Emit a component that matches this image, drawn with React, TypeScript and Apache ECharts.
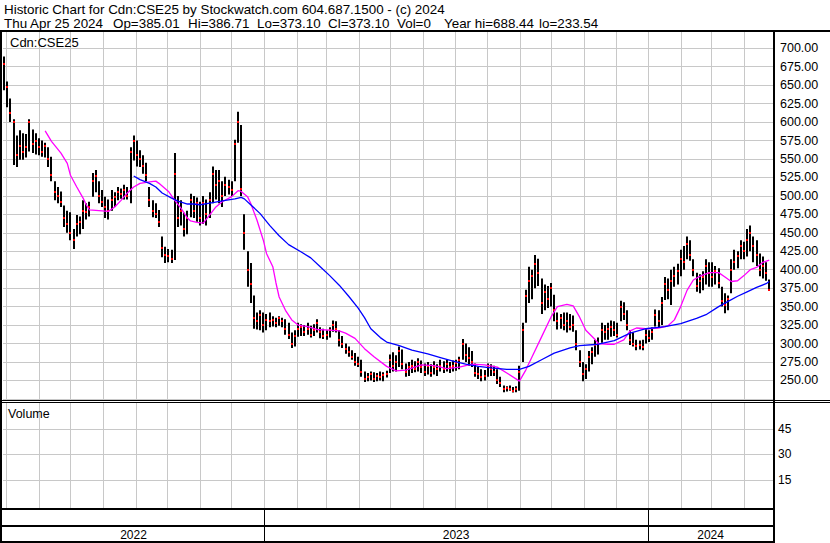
import React, { useEffect, useRef } from "react";
import * as echarts from "echarts";

// ---------- header texts ----------
const TITLE = "Historic Chart for Cdn:CSE25 by Stockwatch.com 604.687.1500 - (c) 2024";
const INFO = ["Thu Apr 25 2024", "Op=385.01", "Hi=386.71", "Lo=373.10", "Cl=373.10", "Vol=0", "Year hi=688.44", "lo=233.54"];
const SYMBOL = "Cdn:CSE25";
const VOLUME_TITLE = "Volume";

// ---------- time range ----------
const AXIS_START = "2022-04-28T00:00:00Z";
const AXIS_END = "2024-04-28T14:00:00Z";
const FIRST_DAY = "2022-04-29T00:00:00Z";
const LAST_DAY = "2024-04-25T00:00:00Z";

const MONTHS = [
  "2022-05-01", "2022-06-01", "2022-07-01", "2022-08-01", "2022-09-01", "2022-10-01", "2022-11-01", "2022-12-01",
  "2023-01-01", "2023-02-01", "2023-03-01", "2023-04-01", "2023-05-01", "2023-06-01", "2023-07-01", "2023-08-01",
  "2023-09-01", "2023-10-01", "2023-11-01", "2023-12-01", "2024-01-01", "2024-02-01", "2024-03-01", "2024-04-01",
];
const YEAR_STARTS = ["2023-01-01", "2024-01-01"];
const YEARS = ["2022", "2023", "2024"];

// ---------- axis ticks ----------
const PRICE_MIN = 225;
const PRICE_MAX = 725;
const PRICE_STEP = 25;
const VOLUME_MIN = 0;
const VOLUME_MAX = 60;
const VOLUME_TICKS = [15, 30, 45];
const VOLUME: number[] = []; // Vol = 0 throughout

// ---------- price bars: [high, low, close] (evenly spaced from FIRST_DAY to LAST_DAY) ----------
const BARS: number[][] = [
  [689, 643, 679], [655, 620, 648], [632, 600, 612], [604, 542, 600], [582, 539, 556], [589, 549, 568], [585, 549, 560], [584, 552, 566],
  [604, 560, 600], [590, 558, 570], [585, 556, 575], [578, 555, 566], [575, 553, 560], [572, 552, 568], [566, 539, 550], [553, 520, 528],
  [520, 494, 505], [512, 490, 500], [506, 485, 492], [487, 458, 470], [480, 450, 462], [478, 440, 450], [455, 428, 440], [474, 445, 462],
  [472, 448, 465], [494, 455, 480], [490, 468, 478], [492, 472, 485], [531, 499, 520], [535, 505, 527], [520, 490, 500], [508, 485, 492],
  [499, 470, 485], [495, 468, 480], [508, 480, 495], [505, 485, 498], [512, 494, 505], [510, 496, 502], [515, 495, 508], [512, 495, 500],
  [566, 490, 560], [582, 548, 575], [575, 540, 555], [562, 539, 550], [555, 530, 540], [545, 520, 528], [512, 485, 495], [494, 471, 480],
  [490, 470, 475], [481, 458, 465], [445, 417, 430], [431, 409, 420], [428, 410, 418], [427, 409, 415], [558, 413, 530], [500, 458, 470],
  [494, 460, 480], [477, 445, 455], [480, 448, 470], [503, 471, 495], [500, 470, 480], [498, 465, 490], [492, 460, 470], [500, 462, 490],
  [495, 460, 475], [505, 470, 495], [540, 490, 530], [535, 495, 515], [535, 490, 520], [520, 485, 500], [526, 500, 515], [522, 502, 512],
  [520, 500, 508], [576, 520, 570], [614, 572, 600], [596, 500, 510], [475, 427, 450], [425, 377, 400], [409, 355, 380], [365, 320, 335],
  [342, 319, 330], [345, 318, 338], [342, 315, 325], [340, 318, 332], [342, 322, 330], [337, 323, 332], [335, 322, 328], [337, 324, 335],
  [335, 322, 330], [333, 312, 320], [328, 306, 312], [315, 294, 300], [318, 296, 310], [328, 309, 320], [326, 310, 322], [325, 310, 315],
  [328, 312, 320], [324, 308, 312], [326, 310, 318], [333, 315, 328], [322, 307, 315], [320, 306, 310], [318, 305, 312], [322, 308, 318],
  [331, 316, 325], [330, 315, 320], [318, 296, 305], [310, 294, 300], [300, 286, 292], [296, 282, 288], [291, 278, 282], [287, 270, 275],
  [282, 268, 272], [278, 255, 262], [262, 248, 252], [260, 249, 255], [262, 250, 258], [261, 248, 252], [260, 249, 256], [262, 250, 254],
  [261, 249, 257], [263, 254, 258], [285, 260, 278], [288, 262, 270], [284, 262, 275], [296, 268, 290], [292, 265, 272], [273, 255, 262],
  [275, 256, 268], [278, 260, 270], [276, 261, 265], [280, 262, 275], [277, 260, 268], [273, 256, 262], [275, 258, 270], [272, 255, 260],
  [276, 258, 268], [272, 256, 265], [278, 262, 270], [276, 260, 265], [278, 262, 272], [275, 260, 268], [277, 262, 270], [278, 263, 273],
  [282, 265, 278], [306, 278, 300], [300, 275, 285], [295, 270, 280], [290, 268, 275], [273, 255, 260], [268, 252, 258], [265, 249, 254],
  [264, 250, 256], [273, 255, 268], [272, 256, 265], [270, 256, 262], [265, 245, 250], [255, 241, 246], [243, 234, 238], [242, 235, 240],
  [243, 236, 239], [241, 233.54, 236], [242, 234, 238], [270, 236, 262], [328, 275, 318], [373, 328, 365], [404, 355, 385], [400, 360, 392],
  [420, 375, 408], [415, 378, 395], [388, 340, 355], [380, 345, 370], [378, 348, 360], [382, 350, 375], [366, 330, 345], [342, 319, 330],
  [340, 320, 335], [342, 318, 325], [342, 315, 330], [340, 318, 322], [338, 316, 325], [318, 291, 300], [291, 268, 275], [275, 249, 258],
  [272, 252, 265], [290, 262, 282], [295, 272, 288], [305, 282, 298], [308, 285, 300], [328, 301, 318], [325, 305, 315], [328, 305, 320],
  [331, 309, 322], [330, 310, 318], [328, 308, 312], [358, 330, 350], [356, 332, 340], [345, 318, 325], [318, 298, 305], [315, 296, 300],
  [305, 291, 296], [304, 292, 298], [305, 291, 295], [320, 300, 312], [318, 302, 308], [322, 305, 315], [346, 323, 338], [345, 322, 330],
  [363, 325, 355], [390, 359, 380], [388, 360, 372], [400, 352, 385], [404, 377, 392], [408, 380, 398], [427, 391, 415], [432, 400, 410],
  [445, 414, 435], [440, 412, 420], [414, 391, 400], [396, 370, 378], [394, 368, 385], [398, 372, 390], [414, 380, 405], [410, 377, 395],
  [410, 377, 390], [405, 380, 398], [402, 375, 382], [377, 350, 358], [368, 341, 352], [365, 345, 360], [414, 368, 400], [427, 400, 410],
  [425, 402, 418], [440, 414, 432], [438, 414, 425], [455, 418, 440], [460, 425, 450], [445, 410, 432], [440, 405, 420], [422, 391, 400],
  [418, 388, 405], [410, 385, 395], [386.71, 373.1, 373.1],
];

// ---------- moving averages: [bar index, value] ----------
const MA_SHORT: number[][] = [
  [13, 588], [15, 574], [18, 558], [20, 544], [21, 528], [23, 512], [25, 497], [26, 488], [27, 481], [30, 480], [33, 479], [35, 485],
  [37, 494], [39, 504], [41, 512], [43, 517], [46, 519], [48, 520], [49, 517], [52, 506], [54, 494], [56, 483], [58, 470], [59, 466],
  [61, 464], [63, 463], [65, 474], [67, 485], [69, 492], [72, 499], [74, 507], [75, 506], [77, 499], [78, 490], [80, 467], [82, 440],
  [83, 422], [85, 404], [86, 382], [87, 363], [89, 345], [91, 332], [93, 325], [96, 323], [99, 319], [103, 318], [106, 317], [108, 314],
  [111, 307], [114, 293], [117, 282], [121, 269], [124, 263], [127, 264], [132, 271], [136, 270], [140, 266], [144, 268], [148, 272],
  [152, 271], [156, 268], [159, 260], [163, 249], [165, 264], [167, 282], [170, 309], [173, 336], [175, 350], [178, 353], [180, 351],
  [182, 336], [184, 318], [187, 305], [188, 300], [191, 299], [193, 299], [196, 305], [198, 317], [200, 321], [203, 320], [207, 321],
  [210, 324], [212, 332], [214, 350], [216, 372], [218, 386], [220, 391], [223, 396], [226, 396], [228, 390], [230, 384], [232, 385],
  [234, 392], [236, 400], [238, 403], [240, 410], [242, 413],
];
const MA_LONG: number[][] = [
  [41, 527], [43, 522], [46, 517], [48, 512], [50, 504], [53, 497], [55, 493], [58, 489], [60, 489], [62, 488], [66, 491], [70, 494],
  [73, 496], [75, 498], [76, 496], [78, 488], [81, 476], [84, 460], [87, 446], [90, 434], [94, 424], [97, 416], [100, 404], [103, 392],
  [106, 379], [109, 364], [112, 348], [114, 335], [116, 320], [119, 308], [121, 302], [125, 297], [129, 291], [134, 286], [138, 281],
  [142, 276], [146, 272], [150, 269], [154, 267], [159, 265], [163, 265], [166, 269], [170, 278], [174, 287], [179, 294], [182, 297],
  [188, 299], [193, 304], [198, 314], [203, 320], [209, 323], [214, 327], [219, 334], [222, 339], [226, 350], [229, 357], [232, 364],
  [235, 370], [238, 376], [241, 381], [242, 384],
];

const FONT = 'Arial, "Liberation Sans", Helvetica, sans-serif';
const GRID_COLOR = "#c8c8c8";

const xMin = Date.parse(AXIS_START);
const xMax = Date.parse(AXIS_END);

function buildOption() {
  const tFirst = Date.parse(FIRST_DAY);
  const tLast = Date.parse(LAST_DAY);
  const step = (tLast - tFirst) / (BARS.length - 1);
  const barTime = (i: number) => tFirst + i * step;
  const yearStarts = YEAR_STARTS.map((d) => Date.parse(d + "T00:00:00Z"));
  const segStarts = [xMin, ...yearStarts];
  const segEnds = [...yearStarts, xMax];

  const grids = [
    { left: 3, top: 29.85, width: 770, height: 369, outerBoundsMode: "none" },
    { left: 3, top: 403, width: 770, height: 102.7, outerBoundsMode: "none" },
    { left: 3, top: 509, width: 770, height: 32, outerBoundsMode: "none" },
  ];
  const xAxes = [0, 1, 2].map((g) => ({ type: "time", gridIndex: g, min: xMin, max: xMax, show: false }));
  const yAxes = [
    {
      type: "value", gridIndex: 0, position: "right", min: PRICE_MIN, max: PRICE_MAX, interval: PRICE_STEP,
      axisLine: { show: false }, axisTick: { show: false },
      axisLabel: {
        margin: 7, color: "#000", fontSize: 12.5, fontFamily: FONT,
        showMinLabel: false, showMaxLabel: false,
        formatter: (v: number) => v.toFixed(2),
      },
      splitLine: { show: true, lineStyle: { color: GRID_COLOR, width: 1 } },
    },
    {
      type: "value", gridIndex: 1, position: "right", min: VOLUME_MIN, max: VOLUME_MAX, interval: 15,
      axisLine: { show: false }, axisTick: { show: false },
      axisLabel: {
        margin: 5, color: "#000", fontSize: 12, fontFamily: FONT,
        showMinLabel: false, showMaxLabel: false,
      },
      splitLine: { show: false },
    },
    { type: "value", gridIndex: 2, min: 0, max: 1, show: false },
  ];

  const series: any[] = [
    {
      type: "custom", xAxisIndex: 1, yAxisIndex: 1, silent: true, z: 1,
      data: VOLUME_TICKS.map((v) => [xMin, v]),
      encode: { x: 0, y: 1 },
      renderItem: (params: any, api: any) => {
        const cs = params.coordSys;
        const y = Math.round(api.coord([xMin, api.value(1)])[1]) + 0.5;
        return { type: "line", shape: { x1: cs.x, y1: y, x2: cs.x + cs.width, y2: y }, style: { stroke: GRID_COLOR, lineWidth: 1 } };
      },
    },
    {
      type: "bar", xAxisIndex: 1, yAxisIndex: 1, data: VOLUME, itemStyle: { color: "#000" },
    },
    {
      type: "custom", xAxisIndex: 2, yAxisIndex: 2, silent: true, z: 3,
      data: YEARS.map((y, k) => [segStarts[k], segEnds[k], k]),
      encode: { x: [0, 1] },
      renderItem: (params: any, api: any) => {
        const cs = params.coordSys;
        const k = api.value(2);
        const x1 = api.coord([api.value(0), 0.5])[0];
        const x2 = api.coord([api.value(1), 0.5])[0];
        const children: any[] = [
          {
            type: "text",
            style: {
              text: YEARS[k], x: (x1 + x2) / 2, y: cs.y + 26,
              textAlign: "center", textVerticalAlign: "middle", align: "center", verticalAlign: "middle",
              font: `12px ${FONT}`, fill: "#000",
            },
          },
        ];
        if (k > 0) {
          const xs = Math.round(x1) + 0.5;
          children.push({ type: "line", shape: { x1: xs, y1: cs.y, x2: xs, y2: cs.y + cs.height }, style: { stroke: "#000", lineWidth: 1 } });
        }
        return { type: "group", children };
      },
    },
    {
      type: "custom", xAxisIndex: 0, yAxisIndex: 0, z: 3, silent: true,
      data: BARS.map((b, i) => [barTime(i), b[0], b[1], b[2]]),
      encode: { x: 0, y: [1, 2, 3] },
      renderItem: (params: any, api: any) => {
        const t = api.value(0);
        const pH = api.coord([t, api.value(1)]);
        const pL = api.coord([t, api.value(2)]);
        const pC = api.coord([t, api.value(3)]);
        const x = Math.round(pH[0]);
        return {
          type: "group",
          children: [
            { type: "rect", shape: { x: x - 1, y: pH[1], width: 2, height: Math.max(1, pL[1] - pH[1]) }, style: { fill: "#000" } },
            { type: "rect", shape: { x: x - 1, y: Math.round(pC[1]) - 1, width: 2, height: 2 }, style: { fill: "#ff0000" } },
          ],
        };
      },
    },
    {
      type: "line", xAxisIndex: 0, yAxisIndex: 0, z: 4, silent: true, showSymbol: false, symbol: "none",
      data: MA_SHORT.map(([i, v]) => [barTime(i), v]),
      lineStyle: { color: "#ff00ff", width: 1.3 },
    },
    {
      type: "line", xAxisIndex: 0, yAxisIndex: 0, z: 4, silent: true, showSymbol: false, symbol: "none",
      data: MA_LONG.map(([i, v]) => [barTime(i), v]),
      lineStyle: { color: "#0000ff", width: 1.3 },
    },
  ];

  return {
    animation: false,
    backgroundColor: "#ffffff",
    grid: grids,
    xAxis: xAxes,
    yAxis: yAxes,
    series,
  };
}

function buildGraphic(monthPx: number[]) {
  const rect = (x: number, y: number, w: number, h: number) => ({
    type: "rect", z: 100, silent: true, shape: { x, y, width: w, height: h }, style: { fill: "#000" },
  });
  const text = (str: string, x: number, y: number, size: number) => ({
    type: "text", z: 100, silent: true,
    style: {
      text: str, x, y, font: `${size}px ${FONT}`, fill: "#000",
      textAlign: "left", textVerticalAlign: "middle", align: "left", verticalAlign: "middle",
    },
  });
  const vline = (x: number, y1: number, y2: number) => ({
    type: "line", z: 1, silent: true,
    shape: { x1: x, y1, x2: x, y2 },
    style: { stroke: GRID_COLOR, lineWidth: 1 },
  });
  const infoX = [4, 113, 188, 257, 328, 397, 444, 539];
  const gridLines: any[] = [];
  monthPx.forEach((px) => {
    const x = Math.round(px) + 0.5;
    gridLines.push(vline(x, 32, 400));
    gridLines.push(vline(x, 403, 508));
  });

  return [
    ...gridLines,
    rect(0, 30, 830, 2),
    rect(0, 30, 2, 513),
    rect(773, 30, 2, 513),
    rect(0, 400, 830, 1),
    rect(0, 402, 830, 1),
    rect(0, 508, 775, 2),
    rect(0, 525, 775, 2),
    rect(0, 541, 775, 2),
    text(TITLE, 4, 9, 13.4),
    ...INFO.map((s, k) => text(s, infoX[k], 23.5, 13.4)),
    text(SYMBOL, 10, 42, 13),
    text(VOLUME_TITLE, 8, 413.5, 12.5),
  ];
}

export default function App() {
  const ref = useRef<HTMLDivElement>(null);
  useEffect(() => {
    const chart = echarts.init(ref.current as HTMLDivElement, null, { renderer: "svg" });
    chart.setOption(buildOption() as any);
    const monthPx = MONTHS.map((m) => chart.convertToPixel({ xAxisIndex: 0 }, Date.parse(m + "T00:00:00Z")) as number);
    chart.setOption({ graphic: { elements: buildGraphic(monthPx) } } as any);
    return () => chart.dispose();
  }, []);
  return <div ref={ref} style={{ position: "absolute", left: 0, top: 0, width: 830, height: 543, background: "#fff" }} />;
}
